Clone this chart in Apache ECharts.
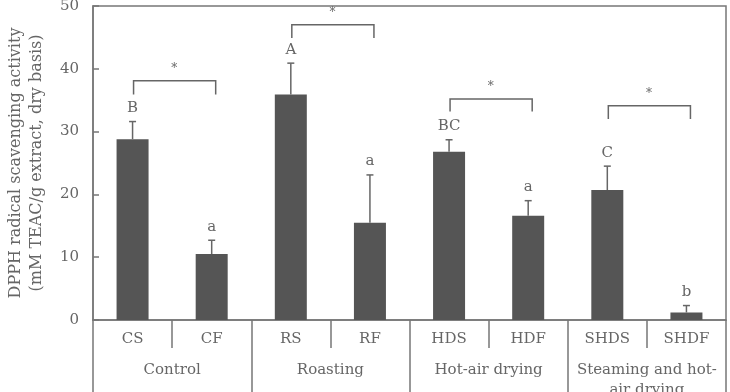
<!DOCTYPE html>
<html><head><meta charset="utf-8">
<script src="https://cdn.jsdelivr.net/npm/echarts@6/dist/echarts.min.js"></script>
<style>html,body{margin:0;padding:0;background:#fff}#c{width:730px;height:392px}</style>
</head><body><div id="c"></div>
<script>
const subCats = ['CS','CF','RS','RF','HDS','HDF','SHDS','SHDF'];
const groups = ['Control','Roasting','Hot-air drying','Steaming and hot-\nair drying'];
const means = [28.8, 10.5, 35.9, 15.5, 26.8, 16.6, 20.7, 1.2];
const errs = [2.8, 2.2, 5.0, 7.6, 1.9, 2.4, 3.8, 1.1];
const letters = ['B','a','A','a','BC','a','C','b'];
const pairs = [[0,1],[2,3],[4,5],[6,7]];
const bracketTop = [38.1, 47.0, 35.2, 34.1];
const bracketEnd = [35.9, 44.9, 33.2, 32.0];
const yTicks = [0,10,20,30,40,50];

const FONT = 'DejaVu Serif';
const TXT = '#666';
const LINE = '#777';

const chart = echarts.init(document.getElementById('c'));
const errData = means.map((m,i)=>[i, m, errs[i]]);
const brData = pairs.map((p,i)=>[p[0], p[1], bracketTop[i], bracketEnd[i]]);

chart.setOption({
  animation: false,
  grid: {left: 93, top: 6, right: 4, bottom: 72, show: true, borderColor: LINE, borderWidth: 1.5, outerBoundsMode: 'none', containLabel: false},
  xAxis: [
    {type: 'category', data: subCats, position: 'bottom',
     axisLine: {show: true, lineStyle: {color: LINE, width: 1.5}},
     axisTick: {show: true, interval: 0, length: 28, lineStyle: {color: LINE, width: 1.5}},
     axisLabel: {interval: 0, margin: 12, fontFamily: FONT, fontSize: 15, color: TXT}},
    {type: 'category', data: groups, position: 'bottom', offset: 0,
     axisLine: {show: false},
     axisTick: {show: true, interval: 0, length: 72, lineStyle: {color: LINE, width: 1.5}},
     axisLabel: {interval: 0, margin: 40, fontFamily: FONT, fontSize: 15, color: TXT, lineHeight: 20}}
  ],
  yAxis: {type: 'value', min: yTicks[0], max: yTicks[yTicks.length-1], interval: 10,
    name: 'DPPH radical scavenging activity\n(mM TEAC/g extract, dry basis)',
    nameLocation: 'middle', nameGap: 46, nameRotate: 90,
    nameTextStyle: {fontFamily: FONT, fontSize: 16, color: TXT, lineHeight: 21},
    axisLine: {show: true, lineStyle: {color: LINE, width: 1.5}},
    axisTick: {show: true, inside: true, length: 6, lineStyle: {color: LINE, width: 1.5}},
    splitLine: {show: false},
    axisLabel: {margin: 14, fontFamily: FONT, fontSize: 15, color: TXT}},
  series: [
    {type: 'bar', data: means, barWidth: 32, itemStyle: {color: '#555'}, xAxisIndex: 0, z: 2},
    {type: 'custom', xAxisIndex: 0, data: errData, z: 3,
     renderItem: function(params, api){
       const i = api.value(0), m = api.value(1), e = api.value(2);
       const p0 = api.coord([i, m]); const p1 = api.coord([i, m+e]);
       const letter = letters[params.dataIndex];
       return {type: 'group', children: [
         {type: 'line', shape: {x1: p0[0], y1: p0[1], x2: p1[0], y2: p1[1]}, style: {stroke: '#666', lineWidth: 1.5}},
         {type: 'line', shape: {x1: p1[0]-3.5, y1: p1[1], x2: p1[0]+3.5, y2: p1[1]}, style: {stroke: '#666', lineWidth: 1.5}},
         {type: 'text', x: p1[0], y: p1[1]-6, style: {text: letter, fontFamily: FONT, fontSize: 15, fill: TXT, align: 'center', verticalAlign: 'bottom'}}
       ]};
     }},
    {type: 'custom', xAxisIndex: 0, data: brData, z: 3,
     renderItem: function(params, api){
       const a = api.value(0), b = api.value(1), t = api.value(2), e = api.value(3);
       const pa = api.coord([a, t]), pb = api.coord([b, t]);
       const ea = api.coord([a, e]);
       return {type: 'group', children: [
         {type: 'polyline', shape: {points: [[pa[0]+1, ea[1]], [pa[0]+1, pa[1]], [pb[0]+4, pb[1]], [pb[0]+4, ea[1]]]}, style: {stroke: '#666', lineWidth: 1.5, fill: null}},
         {type: 'text', x: (pa[0]+pb[0])/2 + 2, y: pa[1]-6, style: {text: '*', fontFamily: FONT, fontSize: 12, fill: TXT, align: 'center', verticalAlign: 'bottom'}}
       ]};
     }}
  ]
});
</script></body></html>
